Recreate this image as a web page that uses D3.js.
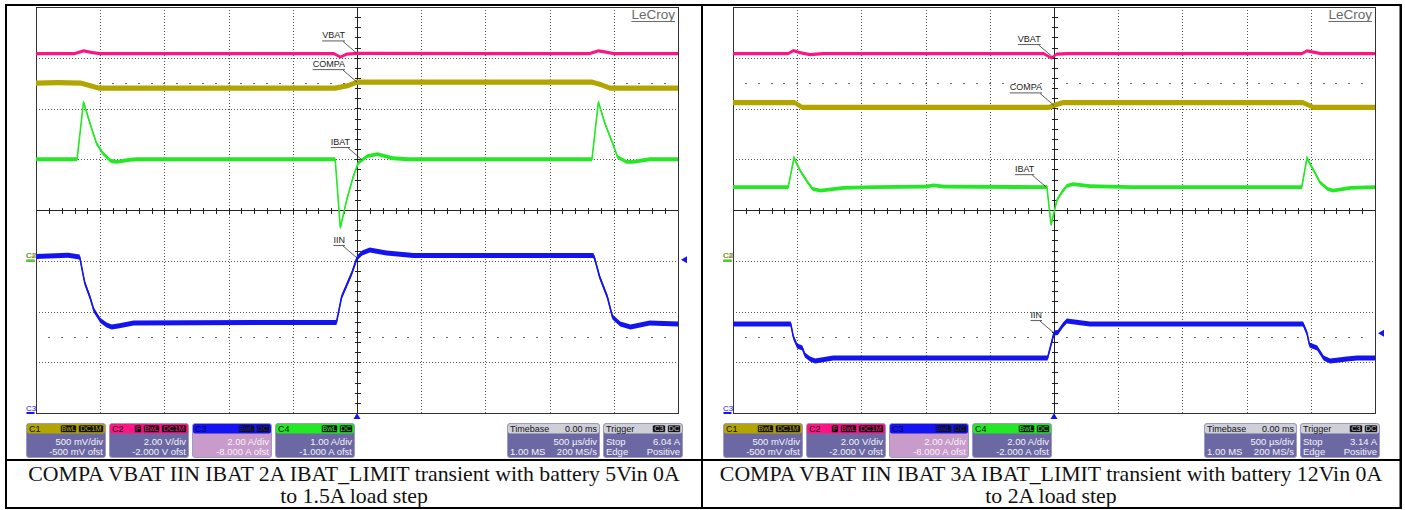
<!DOCTYPE html>
<html>
<head>
<meta charset="utf-8">
<script src="https://cdn.jsdelivr.net/npm/d3@7/dist/d3.min.js"></script>
<style>
  body { margin: 0; background: #fff; }
  svg { display: block; }
  .cap { font-family: "Liberation Serif", "Times New Roman", serif; font-size: 21.8px; fill: #111; }
  .sans { font-family: "Liberation Sans", Arial, sans-serif; }
</style>
</head>
<body>
<svg id="chart" width="1405" height="510"></svg>
<script>
// time axis in ms: 500 us/div, 10 div, trigger at centre
var timeDomain = [-2.5, 2.5];
var divDomain = [-4, 4];

var channels = ['C1', 'C2', 'C3', 'C4'];
var traceNames = ['COMPA', 'VBAT', 'IIN', 'IBAT'];
var channelColors = ['#b3a500', '#ff1483', '#1414f0', '#25e825'];
var badgeList = [['BwL', 'DC1M'], ['F', 'BwL', 'DC1M'], ['BwL', 'DC'], ['BwL', 'DC']];
var timebaseText = ['0.00 ms', '500 \u00b5s/div', '1.00 MS', '200 MS/s'];

// left capture: 2A limit, 5Vin
var perDivLeft = [0.5, 2, 2, 1];
var ofstLeft = [-0.5, -2, -8, -1];
var divTextLeft = ['500 mV/div', '2.00 V/div', '2.00 A/div', '1.00 A/div'];
var ofstTextLeft = ['-500 mV ofst', '-2.000 V ofst', '-8.000 A ofst', '-1.000 A ofst'];
var triggerLeft = 6.04;
var labelTimesLeft = [0, 0, 0, 0.04];
var captionLeft = ['COMPA VBAT IIN IBAT 2A IBAT_LIMIT transient with battery 5Vin 0A', 'to 1.5A load step'];

var compaLeft = [[-2.5, 1.75], [-2.33, 1.755], [-2.15, 1.75], [-2.08, 1.725], [-2.01, 1.70], [-0.17, 1.70],
  [-0.07, 1.725], [0.0, 1.76], [1.83, 1.76], [1.9, 1.735], [1.97, 1.70], [2.5, 1.70]];
var vbatLeft = [[-2.5, 8.16], [-2.2, 8.16], [-2.13, 8.27], [-2.06, 8.2], [-2.0, 8.16], [-0.18, 8.16],
  [-0.13, 8.03], [-0.08, 8.14], [0.0, 8.17], [1.81, 8.16], [1.88, 8.27], [1.94, 8.22], [2.0, 8.16], [2.5, 8.16]];
var iinLeft = [[-2.5, 6.17], [-2.35, 6.2], [-2.25, 6.22], [-2.16, 6.15], [-2.12, 5.12], [-2.08, 4.57],
  [-2.05, 4.06], [-2.0, 3.66], [-1.95, 3.47], [-1.91, 3.39], [-1.85, 3.44], [-1.74, 3.55], [-0.16, 3.57],
  [-0.12, 4.57], [-0.08, 5.04], [-0.04, 5.52], [0.0, 6.11], [0.04, 6.31], [0.1, 6.42], [0.23, 6.31],
  [0.44, 6.21], [1.84, 6.21], [1.85, 6.11], [1.89, 5.36], [1.95, 4.57], [1.99, 3.78], [2.05, 3.51],
  [2.13, 3.39], [2.28, 3.55], [2.5, 3.51]];
var ibatLeft = [[-2.5, 2.0], [-2.18, 2.0], [-2.13, 3.13], [-2.08, 2.71], [-2.03, 2.32], [-1.98, 2.12],
  [-1.92, 1.97], [-1.87, 1.95], [-1.77, 1.99], [-1.71, 2.0], [-0.17, 2.0], [-0.13, 0.65], [-0.08, 1.2],
  [-0.03, 1.65], [0.01, 1.93], [0.08, 2.06], [0.16, 2.1], [0.28, 2.02], [0.4, 2.0], [1.83, 2.0],
  [1.88, 3.13], [1.93, 2.71], [1.99, 2.32], [2.03, 2.04], [2.1, 1.95], [2.15, 1.95], [2.28, 2.0], [2.5, 2.0]];

// right capture: 3A limit, 12Vin
var perDivRight = [0.5, 2, 2, 2];
var ofstRight = [-0.5, -2, -8, -2];
var divTextRight = ['500 mV/div', '2.00 V/div', '2.00 A/div', '2.00 A/div'];
var ofstTextRight = ['-500 mV ofst', '-2.000 V ofst', '-8.000 A ofst', '-2.000 A ofst'];
var triggerRight = 3.14;
var labelTimesRight = [0, -0.01, 0, -0.06];
var captionRight = ['COMPA VBAT IIN IBAT 3A IBAT_LIMIT transient with battery 12Vin 0A', 'to 2A load step'];

var compaRight = [[-2.5, 1.557], [-2.02, 1.557], [-1.96, 1.512], [-0.04, 1.512], [0.01, 1.535], [0.07, 1.557],
  [1.94, 1.557], [2.02, 1.512], [2.5, 1.512]];
var vbatRight = [[-2.5, 8.16], [-2.07, 8.16], [-2.03, 8.28], [-1.98, 8.2], [-1.9, 8.12], [-1.8, 8.16],
  [-0.08, 8.16], [-0.02, 7.99], [0.02, 8.14], [0.1, 8.16], [1.93, 8.16], [1.97, 8.27], [2.03, 8.21],
  [2.08, 8.16], [2.5, 8.16]];
var iinRight = [[-2.5, 3.51], [-2.05, 3.51], [-2.03, 3.0], [-2.0, 2.64], [-1.96, 2.56], [-1.94, 2.29],
  [-1.9, 2.13], [-1.86, 2.05], [-1.72, 2.17], [-0.05, 2.17], [-0.02, 2.76], [0.0, 3.15], [0.03, 3.17],
  [0.07, 3.47], [0.1, 3.63], [0.28, 3.51], [1.94, 3.51], [1.97, 3.15], [1.99, 2.68], [2.05, 2.56],
  [2.1, 2.17], [2.15, 2.05], [2.28, 2.13], [2.36, 2.17], [2.5, 2.17]];
var ibatRight = [[-2.5, 2.9], [-2.07, 2.9], [-2.025, 4.06], [-1.98, 3.58], [-1.92, 3.1], [-1.88, 2.83],
  [-1.82, 2.76], [-1.64, 2.87], [-1.4, 2.9], [-1.0, 2.92], [-0.94, 2.97], [-0.85, 2.92], [-0.055, 2.9],
  [-0.023, 1.41], [0.023, 2.39], [0.062, 2.71], [0.1, 2.95], [0.148, 3.02], [0.28, 2.94], [0.6, 2.9],
  [1.93, 2.9], [1.97, 4.05], [2.02, 3.58], [2.07, 3.1], [2.13, 2.83], [2.17, 2.76], [2.31, 2.87], [2.5, 2.9]];

var svg = d3.select('#chart');
var GX = 36, GW = 642, TOP = 7, BOTTOM = 413;
var bandHalf = [2.6, 1.6, 2.5, 1.9];
var badgeW = {F: 8, BwL: 17, DC1M: 26, DC: 14, C3: 14};

function drawScope(cfg) {
  var g = svg.append('g').attr('transform', 'translate(' + cfg.dx + ',0)');
  var x = d3.scaleLinear().domain(timeDomain).range([GX, GX + GW]);
  var yDiv = d3.scaleLinear().domain(divDomain).range([BOTTOM, TOP]);
  var yCh = cfg.perDiv.map(function(p, i) {
    return d3.scaleLinear()
      .domain([divDomain[0] * p - cfg.ofst[i], divDomain[1] * p - cfg.ofst[i]])
      .range([BOTTOM, TOP]);
  });
  var px = function(v) { return Math.round(v) + 0.5; };

  // graticule
  var grid = g.append('g').attr('shape-rendering', 'crispEdges');
  grid.selectAll('.vg').data(d3.range(-2, 2.01, 0.5).filter(function(t) { return Math.abs(t) > 0.01; }))
    .enter().append('line')
    .attr('x1', function(t) { return px(x(t)); }).attr('x2', function(t) { return px(x(t)); })
    .attr('y1', TOP).attr('y2', BOTTOM)
    .attr('stroke', '#555').attr('stroke-dasharray', '1,2');
  grid.selectAll('.hg').data([-3, -2, -1, 1, 2, 3])
    .enter().append('line')
    .attr('y1', function(d) { return px(yDiv(d)); }).attr('y2', function(d) { return px(yDiv(d)); })
    .attr('x1', GX).attr('x2', GX + GW)
    .attr('stroke', '#555').attr('stroke-dasharray', '1,2');

  // sparse dotted guides at +/- 2.5 div
  [-2.5, 2.5].forEach(function(dv) {
    grid.selectAll(null).data(d3.range(-2.4, 2.41, 0.1))
      .enter().append('rect')
      .attr('x', function(t) { return Math.round(x(t)) - 1; })
      .attr('y', Math.round(yDiv(dv)))
      .attr('width', 2).attr('height', 1).attr('fill', '#666');
  });

  grid.append('rect').attr('x', GX + 0.5).attr('y', TOP + 0.5).attr('width', GW).attr('height', BOTTOM - TOP)
    .attr('fill', 'none').attr('stroke', '#333');

  // centre cross with minor ticks
  var cx = px(x(0)), cy = px(yDiv(0));
  grid.append('line').attr('x1', GX).attr('x2', GX + GW).attr('y1', cy).attr('y2', cy).attr('stroke', '#222');
  grid.append('line').attr('x1', cx).attr('x2', cx).attr('y1', TOP).attr('y2', BOTTOM).attr('stroke', '#222');
  grid.selectAll(null).data(d3.range(-2.4, 2.41, 0.1))
    .enter().append('line')
    .attr('x1', function(t) { return px(x(t)); }).attr('x2', function(t) { return px(x(t)); })
    .attr('y1', cy - 3).attr('y2', cy + 3).attr('stroke', '#222');
  grid.selectAll(null).data(d3.range(-3.8, 3.81, 0.2))
    .enter().append('line')
    .attr('y1', function(d) { return px(yDiv(d)); }).attr('y2', function(d) { return px(yDiv(d)); })
    .attr('x1', cx - 3).attr('x2', cx + 3).attr('stroke', '#222');

  // LeCroy logo
  var logo = g.append('text').attr('class', 'sans').attr('x', GX + GW - 3).attr('y', 19)
    .attr('text-anchor', 'end').attr('font-size', 13.5).attr('fill', '#6a6a6a').text('LeCroy');
  var lw = logo.node().getComputedTextLength();
  g.append('line').attr('x1', GX + GW - 3 - lw).attr('x2', GX + GW - 3).attr('y1', 21.5).attr('y2', 21.5)
    .attr('stroke', '#6a6a6a');

  // traces
  cfg.traces.forEach(function(data, i) {
    var y = yCh[i];
    var h = bandHalf[i];
    var area = d3.area()
      .x(function(d) { return x(d[0]); })
      .y0(function(d) { return y(d[1]) + h; })
      .y1(function(d) { return y(d[1]) - h; });
    var line = d3.line()
      .x(function(d) { return x(d[0]); })
      .y(function(d) { return y(d[1]); });
    g.append('path').attr('d', area(data)).attr('fill', channelColors[i]);
    g.append('path').attr('d', line(data)).attr('fill', 'none')
      .attr('stroke', channelColors[i]).attr('stroke-width', 1.6);
  });

  // trace labels with leaders
  cfg.traces.forEach(function(data, i) {
    var interp = d3.scaleLinear().domain(data.map(function(d) { return d[0]; }))
      .range(data.map(function(d) { return d[1]; }));
    var t = cfg.labelTimes[i];
    var ex = x(t), ey = yCh[i](interp(t));
    var tx = ex - 12, ty = ey - 15;
    var txt = g.append('text').attr('class', 'sans').attr('x', tx).attr('y', ty)
      .attr('text-anchor', 'end').attr('font-size', 9).attr('fill', '#222').text(traceNames[i]);
    var w = txt.node().getComputedTextLength();
    g.append('line').attr('x1', tx - w).attr('x2', tx).attr('y1', ty + 2.5).attr('y2', ty + 2.5)
      .attr('stroke', '#333').attr('stroke-width', 0.8);
    g.append('line').attr('x1', tx - 2).attr('y1', ty + 3).attr('x2', ex).attr('y2', ey)
      .attr('stroke', '#333').attr('stroke-width', 0.8);
  });

  // channel zero markers on the left edge
  [2, 0, 1, 3].forEach(function(i) {
    var y0 = yCh[i](0);
    g.append('text').attr('class', 'sans').attr('x', 26).attr('y', y0 - 2.5).attr('font-size', 8)
      .attr('fill', channelColors[i]).text(channels[i]);
    g.append('rect').attr('x', 26.5).attr('y', y0 - 1).attr('width', 8).attr('height', 2)
      .attr('fill', channelColors[i]);
  });

  // trigger position and level markers
  var tx0 = x(0);
  g.append('path').attr('d', 'M' + tx0 + ',' + BOTTOM + 'l3.5,6h-7z').attr('fill', channelColors[2]);
  var ty0 = yCh[2](cfg.trigger);
  g.append('path').attr('d', 'M' + (GX + GW + 3) + ',' + ty0 + 'l6,-3.5v7z').attr('fill', channelColors[2]);

  // channel info boxes
  var boxX = [26, 109, 192, 275];
  channels.forEach(function(c, i) {
    var bx = boxX[i];
    var b = g.append('g').attr('class', 'sans');
    b.append('rect').attr('x', bx + 0.5).attr('y', 423.5).attr('width', 79).attr('height', 34).attr('rx', 2.5)
      .attr('fill', i === 2 ? '#c89bca' : '#6c68a4').attr('stroke', '#9d9ac8');
    b.append('rect').attr('x', bx + 1).attr('y', 424).attr('width', 78).attr('height', 9.5).attr('rx', 2)
      .attr('fill', channelColors[i]);
    b.append('text').attr('x', bx + 3).attr('y', 432).attr('font-size', 9)
      .attr('fill', i === 2 ? '#00006a' : '#111').text(c);
    badges(b, bx + 79, badgeList[i], channelColors[i], '#111');
    b.append('text').attr('x', bx + 77).attr('y', 444.5).attr('text-anchor', 'end').attr('font-size', 9.5)
      .attr('fill', '#f4f4f8').text(cfg.divText[i]);
    b.append('text').attr('x', bx + 77).attr('y', 455).attr('text-anchor', 'end').attr('font-size', 9.5)
      .attr('fill', '#f4f4f8').text(cfg.ofstText[i]);
  });

  // timebase box
  var tb = g.append('g').attr('class', 'sans');
  tb.append('rect').attr('x', 507.5).attr('y', 423.5).attr('width', 92).attr('height', 34).attr('rx', 2.5)
    .attr('fill', '#6c68a4').attr('stroke', '#9d9ac8');
  tb.append('rect').attr('x', 508).attr('y', 424).attr('width', 91).attr('height', 9.5).attr('rx', 2)
    .attr('fill', '#cfcfd8');
  tb.append('text').attr('x', 510).attr('y', 432).attr('font-size', 9).attr('fill', '#111').text('Timebase');
  tb.append('text').attr('x', 597).attr('y', 432).attr('text-anchor', 'end').attr('font-size', 9)
    .attr('fill', '#111').text(timebaseText[0]);
  tb.append('text').attr('x', 597).attr('y', 444.5).attr('text-anchor', 'end').attr('font-size', 9.5)
    .attr('fill', '#f4f4f8').text(timebaseText[1]);
  tb.append('text').attr('x', 510).attr('y', 455).attr('font-size', 9.5).attr('fill', '#f4f4f8').text(timebaseText[2]);
  tb.append('text').attr('x', 597).attr('y', 455).attr('text-anchor', 'end').attr('font-size', 9.5)
    .attr('fill', '#f4f4f8').text(timebaseText[3]);

  // trigger box
  var tr = g.append('g').attr('class', 'sans');
  tr.append('rect').attr('x', 603.5).attr('y', 423.5).attr('width', 79).attr('height', 34).attr('rx', 2.5)
    .attr('fill', '#6c68a4').attr('stroke', '#9d9ac8');
  tr.append('rect').attr('x', 604).attr('y', 424).attr('width', 78).attr('height', 9.5).attr('rx', 2)
    .attr('fill', '#cfcfd8');
  tr.append('text').attr('x', 606).attr('y', 432).attr('font-size', 9).attr('fill', '#111').text('Trigger');
  badges(tr, 682, ['C3', 'DC'], '#cfcfd8', '#111');
  tr.append('text').attr('x', 606).attr('y', 444.5).attr('font-size', 9.5).attr('fill', '#f4f4f8').text('Stop');
  tr.append('text').attr('x', 680).attr('y', 444.5).attr('text-anchor', 'end').attr('font-size', 9.5)
    .attr('fill', '#f4f4f8').text(d3.format('.2f')(cfg.trigger) + ' A');
  tr.append('text').attr('x', 606).attr('y', 455).attr('font-size', 9.5).attr('fill', '#f4f4f8').text('Edge');
  tr.append('text').attr('x', 680).attr('y', 455).attr('text-anchor', 'end').attr('font-size', 9.5)
    .attr('fill', '#f4f4f8').text('Positive');

  // caption
  cfg.caption.forEach(function(line, k) {
    g.append('text').attr('class', 'cap').attr('x', 354).attr('y', 481 + k * 22)
      .attr('text-anchor', 'middle').text(line);
  });
}

function badges(g, right, list, color, fill) {
  var xr = right - 1;
  list.slice().reverse().forEach(function(name) {
    var w = badgeW[name];
    g.append('rect').attr('x', xr - w + 0.5).attr('y', 425).attr('width', w - 1).attr('height', 7.5).attr('rx', 1.5)
      .attr('fill', fill).attr('stroke', color).attr('stroke-width', 0.6);
    g.append('text').attr('x', xr - w / 2).attr('y', 431.3).attr('text-anchor', 'middle')
      .attr('font-size', 7.5).attr('fill', color).text(name);
    xr -= w + 1;
  });
}

drawScope({dx: 0, perDiv: perDivLeft, ofst: ofstLeft, divText: divTextLeft, ofstText: ofstTextLeft,
  trigger: triggerLeft, labelTimes: labelTimesLeft, caption: captionLeft,
  traces: [compaLeft, vbatLeft, iinLeft, ibatLeft]});
drawScope({dx: 697, perDiv: perDivRight, ofst: ofstRight, divText: divTextRight, ofstText: ofstTextRight,
  trigger: triggerRight, labelTimes: labelTimesRight, caption: captionRight,
  traces: [compaRight, vbatRight, iinRight, ibatRight]});

// table borders
var borders = [[5, 4, 1397, 2], [5, 4, 2, 505], [701, 4, 2, 505], [1399.5, 4, 2.5, 505], [5, 459, 1397, 2], [5, 507, 1397, 2]];
svg.append('g').selectAll('rect').data(borders).enter().append('rect')
  .attr('x', function(d) { return d[0]; }).attr('y', function(d) { return d[1]; })
  .attr('width', function(d) { return d[2]; }).attr('height', function(d) { return d[3]; })
  .attr('fill', '#000');
</script>
</body>
</html>
